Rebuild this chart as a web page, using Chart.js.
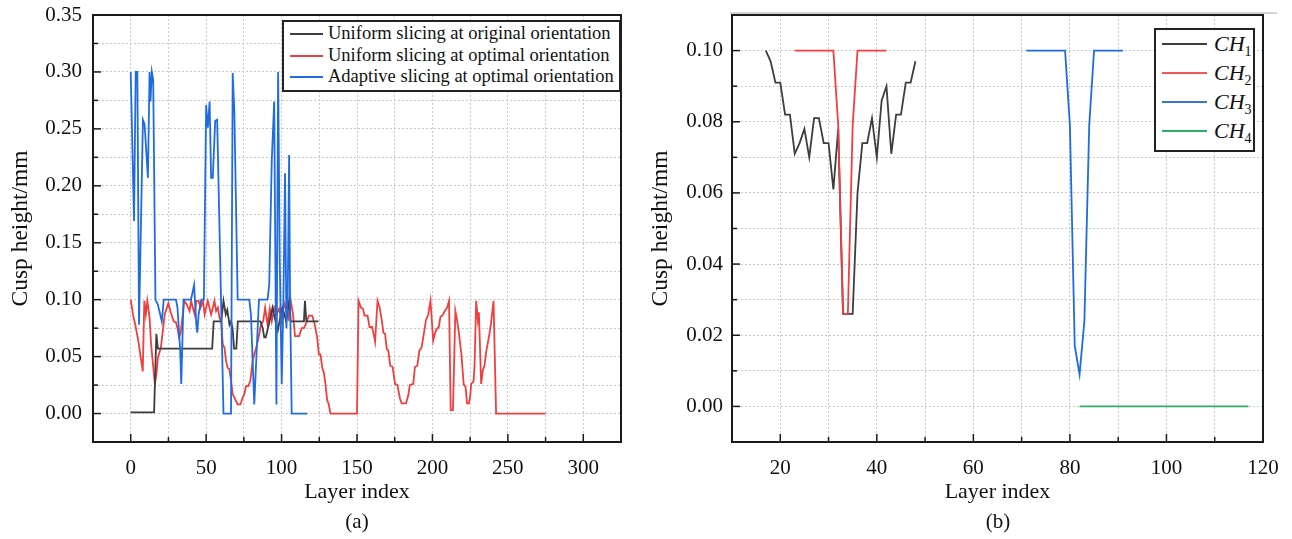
<!DOCTYPE html>
<html>
<head>
<meta charset="utf-8">
<script src="https://cdn.jsdelivr.net/npm/chart.js@4.4.0/dist/chart.umd.min.js"></script>
<style>
  html, body { margin: 0; padding: 0; background: #fff; }
  body { width: 1292px; height: 539px; position: relative; overflow: hidden;
         font-family: 'Liberation Serif', 'Times New Roman', serif; color: #111; }
  .panel { position: absolute; top: 0; height: 539px; }
  #panelA { left: 0; width: 646px; }
  #panelB { left: 640px; width: 652px; }
  .caption { position: absolute; top: 509px; width: 60px; text-align: center; font-size: 21px; line-height: 24px; }
  .legend { position: absolute; background: #fff; border: 2px solid #222; box-sizing: border-box; }
  .row { position: absolute; left: 0; right: 0; white-space: nowrap; }
  .row .swatch { position: absolute; height: 2px; }
  .row .txt { position: absolute; }
  #legendA { left: 282px; top: 20px; width: 339px; height: 72px; font-size: 18.5px; }
  #legendA .row { height: 21.7px; line-height: 21.7px; }
  #legendA .swatch { left: 6px; width: 33px; top: 10px; }
  #legendA .txt { left: 44px; }
  #legendB { left: 1154px; top: 28px; width: 101px; height: 124px; font-size: 22px; }
  #legendB .row { height: 29.2px; line-height: 29.2px; }
  #legendB .swatch { left: 6px; width: 45px; top: 14px; }
  #legendB .txt { left: 58px; }
  #legendB sub { font-size: 14px; vertical-align: -5px; line-height: 0; }
</style>
</head>
<body>
<div class="panel" id="panelA"><canvas id="chartA" width="646" height="539"></canvas></div>
<div class="panel" id="panelB"><canvas id="chartB" width="652" height="539"></canvas></div>

<div class="legend" id="legendA">
  <div class="row" style="top:1px"><span class="swatch" style="background:#3d3d3d"></span><span class="txt">Uniform slicing at original orientation</span></div>
  <div class="row" style="top:22.7px"><span class="swatch" style="background:#f23e3e"></span><span class="txt">Uniform slicing at optimal orientation</span></div>
  <div class="row" style="top:44.4px"><span class="swatch" style="background:#1f6be3"></span><span class="txt">Adaptive slicing at optimal orientation</span></div>
</div>
<div class="legend" id="legendB">
  <div class="row" style="top:-1.3px"><span class="swatch" style="background:#3d3d3d"></span><span class="txt"><i>CH</i><sub>1</sub></span></div>
  <div class="row" style="top:27.9px"><span class="swatch" style="background:#f25555"></span><span class="txt"><i>CH</i><sub>2</sub></span></div>
  <div class="row" style="top:57.1px"><span class="swatch" style="background:#3a78c8"></span><span class="txt"><i>CH</i><sub>3</sub></span></div>
  <div class="row" style="top:86.3px"><span class="swatch" style="background:#2fae6a"></span><span class="txt"><i>CH</i><sub>4</sub></span></div>
</div>

<div class="caption" style="left:327px">(a)</div>
<div class="caption" style="left:968px">(b)</div>

<script>
// ---- panel (a): cusp height per layer, three slicing strategies ----
const layerOrig = [0, 15.5, 17, 18, 54, 55, 60, 61.5, 63, 64, 65.5, 66.5, 67.5, 68.5, 70, 71, 86, 87.5, 88.5, 89.5,
  91, 92, 94, 95, 96.5, 97.5, 99.5, 100.5, 102, 103, 105, 106, 114.8, 115.5, 116.4, 124.5];
const cuspOrig = [0.001, 0.001, 0.07, 0.057, 0.057, 0.081, 0.081, 0.099, 0.087, 0.091, 0.078, 0.081, 0.075, 0.057, 0.057, 0.081, 0.081, 0.075, 0.067, 0.067,
  0.075, 0.081, 0.093, 0.087, 0.078, 0.073, 0.087, 0.093, 0.087, 0.081, 0.099, 0.081, 0.081, 0.099, 0.081, 0.081];

const layerOpt = [0, 1.5, 3, 5, 7, 8, 9, 10, 11, 12.5, 13.5, 15, 16, 17, 18, 20, 21.5, 22.5, 24, 25,
  26.5, 28.5, 30, 31, 32, 33, 34.5, 35.5, 37, 39, 40, 42.4, 43.5, 45, 46.3, 47.9, 49, 50, 51.1, 52.2,
  53.3, 55.5, 56.6, 57.8, 58.9, 60, 61, 62.1, 63.2, 64.3, 65.4, 66.5, 67.6, 68.7, 69.8, 70.9, 72.7, 74.2, 75.3, 76.4,
  78, 79.3, 80.8, 81.9, 83, 84.8, 86.3, 87.8, 89.1, 90.7, 92.2, 93.5, 95.1, 96.6, 98.4, 100.1, 101.7, 102.8, 104.5, 106.1,
  107.6, 108.9, 111.6, 113.3, 114.8, 115.9, 118.1, 120.3, 122, 123.6, 124.7, 125.8, 127, 128, 129, 130.2, 131.3, 132.4, 150, 151,
  152.6, 154, 155, 157, 158.3, 160, 161, 162, 163.6, 165, 166.4, 167.5, 168.6, 169.7, 170.8, 172, 173.6, 175.2, 176.8, 178.5,
  179.6, 182.5, 184, 185, 187.3, 188.4, 190, 191.3, 192.8, 194.3, 195.7, 197.2, 198.7, 200.5, 201.6, 202.7, 204.2, 205.3, 206.6, 208.2,
  209.7, 211, 212.1, 213.6, 215.2, 216.3, 217.6, 219.2, 220.7, 222, 222.9, 224.2, 225.1, 225.7, 227.2, 227.9, 229, 230.1, 230.8, 232.3,
  233.4, 234.5, 235.6, 237.8, 238.9, 240.5, 242.2, 275];
const cuspOpt = [0.100, 0.087, 0.078, 0.064, 0.046, 0.037, 0.099, 0.087, 0.099, 0.084, 0.061, 0.040, 0.026, 0.034, 0.049, 0.058, 0.075, 0.087, 0.093, 0.097,
  0.089, 0.081, 0.080, 0.075, 0.067, 0.070, 0.087, 0.099, 0.096, 0.090, 0.099, 0.087, 0.099, 0.099, 0.093, 0.099, 0.087, 0.093, 0.099, 0.093,
  0.087, 0.099, 0.090, 0.093, 0.084, 0.081, 0.061, 0.058, 0.046, 0.040, 0.039, 0.029, 0.017, 0.014, 0.011, 0.008, 0.008, 0.014, 0.017, 0.024,
  0.024, 0.029, 0.046, 0.052, 0.057, 0.067, 0.078, 0.081, 0.093, 0.078, 0.092, 0.081, 0.093, 0.087, 0.092, 0.081, 0.097, 0.092, 0.084, 0.099,
  0.087, 0.068, 0.068, 0.075, 0.075, 0.078, 0.086, 0.086, 0.078, 0.067, 0.052, 0.052, 0.040, 0.036, 0.027, 0.012, 0.008, 0, 0, 0.099,
  0.093, 0.092, 0.086, 0.086, 0.076, 0.076, 0.070, 0.063, 0.099, 0.093, 0.082, 0.071, 0.070, 0.057, 0.055, 0.042, 0.041, 0.026, 0.025, 0.013,
  0.009, 0.009, 0.016, 0.025, 0.026, 0.041, 0.042, 0.055, 0.058, 0.070, 0.082, 0.087, 0.099, 0.064, 0.070, 0.074, 0.076, 0.085, 0.086, 0.090,
  0.093, 0.099, 0.003, 0.003, 0.090, 0.082, 0.070, 0.052, 0.026, 0.023, 0.009, 0.009, 0.016, 0.026, 0.028, 0.041, 0.099, 0.082, 0.089, 0.026,
  0.038, 0.042, 0.054, 0.070, 0.080, 0.099, 0, 0];

const layerAdapt = [0, 2.2, 3.3, 4.4, 5.5, 8.1, 9.2, 11.4, 12.5, 13.1, 14, 14.9, 16.4, 17.9, 19, 20.6, 21.9, 30, 31, 32.8,
  33.5, 35, 40, 42, 43.5, 44.1, 45, 46.8, 48.5, 50, 51.1, 52.3, 53.3, 54.4, 56, 57.3, 61.5, 66.5, 67.6, 68.7,
  70.9, 78.6, 79.7, 81.9, 85, 90.7, 91.8, 93.5, 95.1, 96.6, 97.7, 98.8, 100.1, 101.2, 102.3, 103.2, 104.1, 105, 105.6, 106.7, 117];
const cuspAdapt = [0.300, 0.169, 0.300, 0.300, 0.078, 0.258, 0.254, 0.207, 0.300, 0.274, 0.300, 0.293, 0.100, 0.096, 0.090, 0.081, 0.100, 0.100, 0.093, 0.055,
  0.026, 0.100, 0.100, 0.113, 0.078, 0.071, 0.087, 0.100, 0.100, 0.271, 0.251, 0.274, 0.207, 0.207, 0.257, 0.258, 0, 0, 0.299, 0.265,
  0.100, 0.100, 0.087, 0.008, 0.100, 0.100, 0.113, 0.222, 0.274, 0.008, 0.300, 0.134, 0.026, 0.099, 0.211, 0.075, 0.105, 0.227, 0.105, 0, 0];

// ---- panel (b): cusp height per layer in each chunk ----
const layerCH1 = [17, 18, 19, 20, 21, 22, 23, 24, 25, 26, 27, 28, 29, 30, 31, 32, 33, 34, 35, 36, 37, 38, 39, 40, 41, 42, 43, 44, 45, 46, 47, 48];
const cuspCH1 = [0.100, 0.097, 0.091, 0.091, 0.082, 0.082, 0.071, 0.074, 0.078, 0.070, 0.081, 0.081, 0.074, 0.074, 0.061, 0.078,
  0.026, 0.026, 0.026, 0.060, 0.074, 0.074, 0.081, 0.070, 0.086, 0.090, 0.071, 0.082, 0.082, 0.091, 0.091, 0.097];
const layerCH2 = [23, 24, 25, 26, 27, 28, 29, 30, 31, 32, 33, 34, 35, 36, 37, 38, 39, 40, 41, 42];
const cuspCH2 = [0.1, 0.1, 0.1, 0.1, 0.1, 0.1, 0.1, 0.1, 0.1, 0.079, 0.026, 0.026, 0.079, 0.1, 0.1, 0.1, 0.1, 0.1, 0.1, 0.1];
const layerCH3 = [71, 72, 73, 74, 75, 76, 77, 78, 79, 80, 81, 82, 83, 84, 85, 86, 87, 88, 89, 90, 91];
const cuspCH3 = [0.1, 0.1, 0.1, 0.1, 0.1, 0.1, 0.1, 0.1, 0.1, 0.079, 0.017, 0.009, 0.024, 0.079, 0.1, 0.1, 0.1, 0.1, 0.1, 0.1, 0.1];
const layerCH4 = [82, 117];
const cuspCH4 = [0, 0];

const serif = "'Liberation Serif', 'Times New Roman', serif";
Chart.defaults.font.family = serif;
Chart.defaults.color = '#111';

function pts(xs, ys) { return xs.map((x, i) => ({ x: x, y: ys[i] })); }

function near(v, step) { return Math.abs(Math.round(v / step) * step - v) < 1e-7; }

// frame round the plot and inward tick marks, as in the original figure
const frameTicks = {
  id: 'frameTicks',
  afterDatasetsDraw(chart, args, opts) {
    const { ctx, chartArea: a, scales } = chart;
    ctx.save();
    ctx.strokeStyle = '#1a1a1a';
    ctx.lineWidth = 1.5;
    scales.x.ticks.forEach(t => {
      const px = scales.x.getPixelForValue(t.value);
      const len = t.label !== '' ? 8 : 5;
      ctx.beginPath(); ctx.moveTo(px, a.bottom); ctx.lineTo(px, a.bottom - len); ctx.stroke();
    });
    scales.y.ticks.forEach(t => {
      const py = scales.y.getPixelForValue(t.value);
      const len = t.label !== '' ? 8 : 5;
      ctx.beginPath(); ctx.moveTo(a.left, py); ctx.lineTo(a.left + len, py); ctx.stroke();
    });
    ctx.lineWidth = 2;
    ctx.strokeRect(a.left, a.top, a.right - a.left, a.bottom - a.top);
    if (opts.topLine) {
      ctx.strokeStyle = '#c4c4c4';
      ctx.lineWidth = 1.5;
      ctx.beginPath(); ctx.moveTo(a.left - 2, a.top - 2); ctx.lineTo(a.right + 14, a.top - 2); ctx.stroke();
    }
    ctx.restore();
  }
};

function line(label, data, color, order) {
  return { label: label, data: data, borderColor: color, backgroundColor: color, borderWidth: 1.8,
           pointRadius: 0, tension: 0, fill: false, order: order };
}

function options(p) {
  return {
    responsive: false,
    animation: false,
    layout: { padding: { left: 0, right: p.padRight, top: 15, bottom: 34 } },
    plugins: { legend: { display: false }, tooltip: { enabled: false }, frameTicks: { topLine: p.topLine } },
    scales: {
      x: {
        type: 'linear', min: p.xMin, max: p.xMax,
        afterFit: s => { s.height = 63; s.paddingLeft = 0; s.paddingRight = 0; },
        ticks: { stepSize: p.xStep, autoSkip: false, maxRotation: 0, padding: 14, color: '#111',
                 font: { family: serif, size: 21 },
                 callback: v => (near(v, p.xMajor) && v >= p.xFirst && v <= p.xLast) ? String(Math.round(v)) : '' },
        grid: { color: '#c8c8c8', lineWidth: 1, drawTicks: false },
        border: { display: true, color: '#1a1a1a', width: 2, dash: [2, 2] },
        title: { display: true, text: 'Layer index', font: { family: serif, size: 22 }, color: '#111', padding: 0 }
      },
      y: {
        type: 'linear', min: p.yMin, max: p.yMax,
        afterFit: s => { s.width = p.yWidth; s.paddingTop = 0; s.paddingBottom = 0; },
        ticks: { stepSize: p.yStep, autoSkip: false, padding: p.yPad, color: '#111',
                 font: { family: serif, size: 21 },
                 callback: v => (near(v, p.yMajor) && v >= -1e-9 && v <= p.yLast + 1e-9) ? v.toFixed(2) : '' },
        grid: { color: '#c8c8c8', lineWidth: 1, drawTicks: false },
        border: { display: true, color: '#1a1a1a', width: 2, dash: [2, 2] },
        title: { display: true, text: 'Cusp height/mm', font: { family: serif, size: 23.5 }, color: '#111', padding: { top: 7, bottom: 0 } }
      }
    }
  };
}

function draw() {
  new Chart(document.getElementById('chartA'), {
    type: 'line',
    data: {
      datasets: [
        line('Uniform slicing at original orientation', pts(layerOrig, cuspOrig), '#3d3d3d', 2),
        line('Uniform slicing at optimal orientation', pts(layerOpt, cuspOpt), '#f23e3e', 3),
        line('Adaptive slicing at optimal orientation', pts(layerAdapt, cuspAdapt), '#1f6be3', 1)
      ]
    },
    options: options({ padRight: 25, topLine: false, xMin: -25, xMax: 325, xStep: 25, xMajor: 50, xFirst: 0, xLast: 300,
                       yMin: -0.025, yMax: 0.35, yStep: 0.025, yMajor: 0.05, yLast: 0.35, yWidth: 93, yPad: 11 }),
    plugins: [frameTicks]
  });

  new Chart(document.getElementById('chartB'), {
    type: 'line',
    data: {
      datasets: [
        line('CH1', pts(layerCH1, cuspCH1), '#3d3d3d', 4),
        line('CH2', pts(layerCH2, cuspCH2), '#f23e3e', 3),
        line('CH3', pts(layerCH3, cuspCH3), '#1f6be3', 2),
        line('CH4', pts(layerCH4, cuspCH4), '#2fae6a', 1)
      ]
    },
    options: options({ padRight: 29, topLine: true, xMin: 10, xMax: 120, xStep: 10, xMajor: 20, xFirst: 20, xLast: 120,
                       yMin: -0.01, yMax: 0.11, yStep: 0.01, yMajor: 0.02, yLast: 0.10, yWidth: 92, yPad: 9 }),
    plugins: [frameTicks]
  });
}

document.fonts.load('21px "Liberation Serif"').then(draw, draw);
</script>
</body>
</html>
